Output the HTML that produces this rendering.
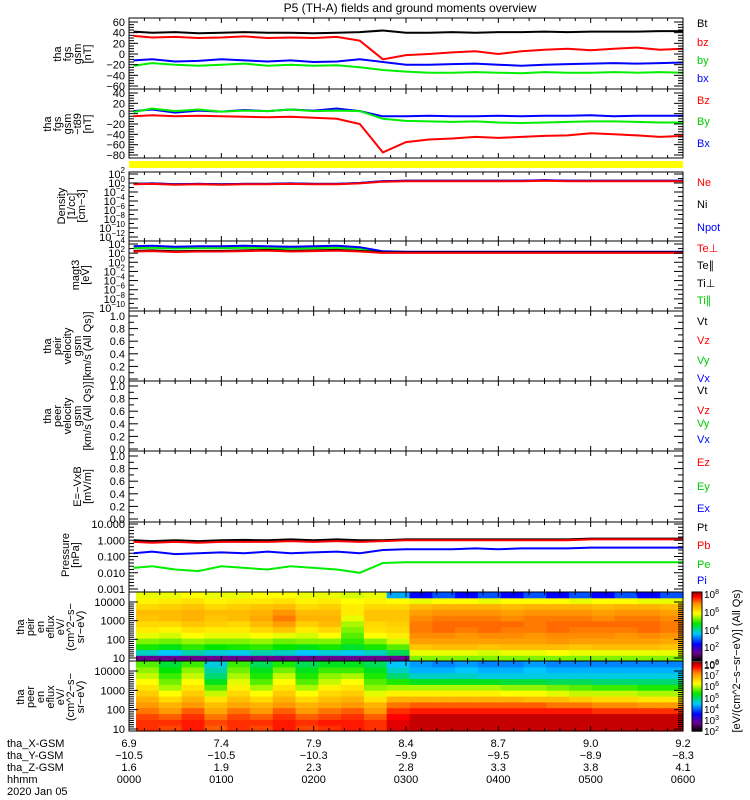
<!DOCTYPE html>
<html><head><meta charset="utf-8">
<style>
html,body{margin:0;padding:0;background:#fff;}
svg{display:block;font-family:"Liberation Sans",sans-serif;}
</style></head>
<body>
<svg id="chart" width="750" height="800" viewBox="0 0 750 800" xmlns="http://www.w3.org/2000/svg">
<rect x="0" y="0" width="750" height="800" fill="#fff"/>
<text x="410" y="12" font-size="12" text-anchor="middle">P5 (TH-A) fields and ground moments overview</text>
<g id="g"></g>
</svg>
<script>
// ---- data (25 points, every 15 minutes from 0000 to 0600) ----
const fgsBt=[42,40,41,39,40,41,40,40,39,40,41,44,40,40,41,40,41,41,42,41,42,42,42,43,43];
const fgsBz=[34,31,32,30,31,33,30,31,30,32,25,-10,-2,0,3,5,0,5,8,10,7,10,12,8,10];
const fgsBy=[-12,-10,-14,-13,-10,-12,-14,-12,-15,-14,-10,-15,-20,-20,-19,-18,-20,-22,-20,-19,-18,-17,-18,-17,-16];
const fgsBx=[-22,-17,-20,-22,-20,-18,-22,-20,-22,-21,-25,-30,-33,-35,-35,-34,-35,-36,-34,-35,-35,-34,-35,-34,-35];
const t89Bz=[-5,-3,-5,-4,-5,-6,-7,-6,-8,-10,-20,-75,-55,-50,-48,-45,-47,-45,-43,-42,-38,-40,-42,-45,-43];
const t89By=[3,10,5,8,4,6,5,8,5,6,5,-10,-14,-15,-16,-15,-17,-18,-17,-16,-15,-15,-16,-17,-17];
const t89Bx=[5,8,2,6,4,7,5,8,6,10,5,-5,-5,-4,-5,-5,-4,-5,-4,-4,-3,-5,-4,-4,-4];
const logNe=[-0.3,-0.2,-0.4,-0.3,-0.4,-0.3,-0.3,-0.2,-0.3,-0.3,-0.1,0.3,0.4,0.4,0.4,0.4,0.4,0.4,0.5,0.4,0.4,0.4,0.4,0.4,0.4];
const logNi=[-0.2,-0.1,-0.3,-0.2,-0.3,-0.2,-0.2,-0.1,-0.2,-0.2,0,0.4,0.5,0.5,0.5,0.5,0.5,0.5,0.6,0.5,0.5,0.5,0.5,0.5,0.5];
const logTe=[2.5,2.6,2.4,2.5,2.5,2.6,2.7,2.5,2.6,2.7,2.5,2.2,2.2,2.2,2.2,2.2,2.2,2.2,2.2,2.2,2.2,2.2,2.2,2.2,2.2];
const logTi=[3.5,3.6,3.4,3.5,3.5,3.6,3.5,3.4,3.5,3.6,3.3,2.4,2.3,2.3,2.3,2.3,2.3,2.3,2.3,2.3,2.3,2.3,2.3,2.3,2.3];
const logTipar=[3.1,3.2,3.0,3.1,3.1,3.2,3.1,3.0,3.1,3.2,3.0,2.3,2.2,2.2,2.2,2.2,2.2,2.2,2.2,2.2,2.2,2.2,2.2,2.2,2.2];
const logPt=[0.0,-0.05,0.0,-0.05,0.0,0.02,0.0,0.05,0.0,0.05,0.0,0.0,0.05,0.05,0.05,0.05,0.05,0.05,0.05,0.05,0.1,0.1,0.1,0.1,0.1];
const logPb=[-0.1,-0.15,-0.1,-0.15,-0.1,-0.1,-0.1,-0.05,-0.1,-0.05,-0.1,-0.05,0,0,0,0,0,0,0,0,0.05,0.05,0.05,0.05,0.05];
const logPe=[-0.8,-0.7,-0.85,-0.8,-0.75,-0.8,-0.7,-0.8,-0.75,-0.7,-0.8,-0.6,-0.55,-0.55,-0.55,-0.5,-0.55,-0.5,-0.5,-0.5,-0.45,-0.45,-0.45,-0.45,-0.45];
const logPi=[-1.7,-1.6,-1.8,-1.9,-1.6,-1.7,-1.8,-1.6,-1.7,-1.8,-2.0,-1.4,-1.35,-1.35,-1.35,-1.35,-1.35,-1.35,-1.35,-1.35,-1.35,-1.35,-1.35,-1.35,-1.35];
// spectrogram rows: energy bins (low->high), 24 time bins each; values = log10 flux
const ionSpec=[
[1,1,1,1,1,1,1,1,1,1,1,1,5,5,5,5,5,5,5,5,5,5,5,5],
[3.5,3.2,3.6,3.4,3.3,3.6,3.5,3.2,3.4,3.3,3.5,4,5.5,5.5,5.5,5.4,5.5,5.5,5.6,5.5,5.5,5.5,5.5,5.5],
[4.5,4.3,4.6,4.4,4.5,4.6,4.4,4.3,4.5,4.2,4.5,4.8,6.2,6.3,6.3,6.2,6.3,6.3,6.3,6.2,6.3,6.3,6.3,6.2],
[5.0,4.9,5.1,5.0,5.0,5.1,4.9,5.0,5.0,4.6,5.0,5.4,6.6,6.6,6.6,6.6,6.6,6.6,6.7,6.6,6.6,6.6,6.6,6.5],
[5.5,5.4,5.6,5.5,5.5,5.6,5.5,5.4,5.6,4.8,5.6,5.8,6.8,6.8,6.7,6.8,6.8,6.7,6.8,6.8,6.8,6.7,6.8,6.7],
[5.8,5.7,5.9,5.8,5.8,6.0,6.2,5.8,6.0,5.0,5.9,6.0,6.9,7.0,6.9,7.0,6.9,6.9,7.0,6.9,6.9,6.9,7.0,6.9],
[6.0,6.0,6.2,6.1,6.0,6.3,6.6,6.1,6.3,5.2,6.0,6.1,6.9,7.0,7.0,7.0,7.0,6.9,7.0,7.0,7.0,7.0,7.0,6.9],
[6.2,6.3,6.4,6.2,6.3,6.5,6.9,6.4,6.4,5.5,6.2,6.2,6.8,6.9,6.9,6.9,6.8,6.9,6.9,6.9,6.8,6.9,6.9,6.8],
[6.3,6.3,6.4,6.3,6.3,6.4,6.7,6.3,6.3,5.8,6.2,6.2,6.6,6.7,6.7,6.7,6.6,6.7,6.7,6.7,6.6,6.7,6.7,6.6],
[6.0,6.1,6.2,6.0,6.1,6.2,6.3,6.0,6.1,5.8,6.0,6.0,6.3,6.4,6.4,6.4,6.3,6.4,6.4,6.4,6.3,6.4,6.4,6.3],
[5.7,5.8,5.9,5.7,5.8,5.8,5.9,5.7,5.8,5.6,5.7,5.6,5.5,5.6,5.6,5.5,5.6,5.6,5.6,5.5,5.6,5.6,5.5,5.5],
[5.5,5.5,5.6,5.5,5.5,5.6,5.6,5.5,5.5,5.4,5.5,3,2,2.5,2,2.5,2,2.5,2,2.5,2,2.5,2,2.5]];
const eleSpec=[
[7.5,7.4,7.6,7.3,7.5,7.4,7.6,7.4,7.5,7.6,7.5,7.8,7.9,7.9,7.9,7.9,7.9,7.9,7.9,7.9,7.9,7.9,7.9,7.9],
[7.5,7.5,7.6,7.4,7.5,7.5,7.6,7.5,7.6,7.6,7.5,7.8,7.9,7.9,7.9,7.9,7.9,7.9,7.9,7.9,7.9,7.9,7.9,7.9],
[7.4,7.3,7.5,7.2,7.4,7.3,7.5,7.3,7.4,7.5,7.3,7.7,7.9,7.9,7.9,7.9,7.9,7.9,7.9,7.9,7.9,7.9,7.9,7.9],
[7.2,7.0,7.3,6.9,7.2,7.0,7.3,7.0,7.2,7.3,7.0,7.5,7.6,7.6,7.6,7.6,7.6,7.6,7.6,7.6,7.5,7.5,7.5,7.5],
[7.0,6.8,7.0,6.7,6.9,6.8,7.0,6.8,6.9,7.0,6.8,7.2,7.3,7.3,7.3,7.3,7.3,7.3,7.2,7.2,7.1,7.1,7.0,7.0],
[6.8,6.5,6.8,6.4,6.7,6.5,6.8,6.5,6.7,6.8,6.4,6.8,6.8,6.8,6.8,6.8,6.8,6.7,6.7,6.6,6.5,6.5,6.4,6.4],
[6.6,6.2,6.6,6.0,6.5,6.2,6.6,6.2,6.5,6.6,6.1,6.3,6.3,6.3,6.3,6.3,6.2,6.2,6.1,6.0,6.0,6.0,5.9,5.9],
[6.4,5.9,6.4,5.6,6.3,5.9,6.4,5.9,6.3,6.4,5.8,5.9,5.9,5.9,5.9,5.9,5.8,5.8,5.7,5.6,5.5,5.5,5.4,5.4],
[6.2,5.7,6.2,5.2,6.1,5.6,6.2,5.6,6.0,6.2,5.6,5.4,5.2,5.2,5.2,5.2,5.1,5.1,5.0,5.0,4.9,4.9,4.9,4.9],
[6.0,5.5,6.0,4.9,5.9,5.4,6.0,5.4,5.8,5.9,5.4,4.9,4.6,4.6,4.6,4.5,4.5,4.5,4.5,4.5,4.5,4.5,4.5,4.5],
[5.8,5.3,5.8,4.7,5.7,5.2,5.7,5.2,5.5,5.5,5.2,4.6,4.3,4.3,4.4,4.3,4.3,4.4,4.3,4.3,4.3,4.3,4.3,4.3],
[5.6,5.1,5.5,4.5,5.5,5.0,5.4,5.0,5.2,5.2,5.0,4.4,4.2,4.1,4.2,4.1,4.1,4.2,4.1,4.1,4.1,4.1,4.1,4.1]];
const posX=["6.9","7.4","7.9","8.4","8.7","9.0","9.2"];
const posY=["\u221210.5","\u221210.5","\u221210.3","\u22129.9","\u22129.5","\u22128.9","\u22128.3"];
const posZ=["1.6","1.9","2.3","2.8","3.3","3.8","4.1"];
const hhmm=["0000","0100","0200","0300","0400","0500","0600"];

const NS="http://www.w3.org/2000/svg";
const G=document.getElementById('g');
const X0=129,X1=683;
function xs(h){return X0+h/6*(X1-X0);}
function mk(tag,attrs,parent){const e=document.createElementNS(NS,tag);for(const k in attrs)e.setAttribute(k,attrs[k]);(parent||G).appendChild(e);return e;}
function lin(d0,d1,p0,p1){return v=>p0+(v-d0)/(d1-d0)*(p1-p0);}

function frame(top,bot,name){
  const r=mk('rect',{x:X0,y:top,width:X1-X0,height:bot-top,fill:'none',stroke:'#000','stroke-width':1});
  
  
  for(let m=0;m<=36;m++){const x=xs(m/6);const L=(m%6===0)?5:3;
    mk('line',{x1:x,y1:top,x2:x,y2:top+L,stroke:'#000'});mk('line',{x1:x,y1:bot,x2:x,y2:bot-L,stroke:'#000'});}
}
function yticks(ys,labels,sup,minorN){
  for(let i=0;i<ys.length;i++){
    mk('line',{x1:X0,y1:ys[i],x2:X0+9,y2:ys[i],stroke:'#000'});
    mk('line',{x1:X1,y1:ys[i],x2:X1-9,y2:ys[i],stroke:'#000'});
    const t=mk('text',{x:X0-4,y:ys[i]+4,'font-size':11,'text-anchor':'end'});
    
    
    if(sup){t.textContent='10';const s=mk('tspan',{dy:-5,'font-size':8},t);s.textContent=labels[i];}
    else t.textContent=labels[i];
    if(i<ys.length-1){for(let k=1;k<minorN;k++){const y=ys[i]+(ys[i+1]-ys[i])*k/minorN;
      mk('line',{x1:X0,y1:y,x2:X0+5,y2:y,stroke:'#000'});mk('line',{x1:X1,y1:y,x2:X1-5,y2:y,stroke:'#000'});}}
  }
}
function ytitle(lines,cy,xLast,name){
  const n=lines.length;
  lines.forEach((s,i)=>{const x=xLast-(n-1-i)*10;
    const t=mk('text',{x:x,y:cy,'font-size':11,'text-anchor':'middle',transform:`rotate(-90 ${x} ${cy})`});
    
    
    t.textContent=s;});
}
function rlabel(txt,y,col){
  const t=mk('text',{x:697,y:y,'font-size':11,fill:col});
  
  
  t.textContent=txt;
}
function series(arr,ysc,col,name){
  const pts=arr.map((v,i)=>xs(i*0.25+0.05*(i===0?1:0)).toFixed(1)+','+ysc(v).toFixed(1)).join(' ');
  const p=mk('polyline',{points:pts,fill:'none',stroke:col,'stroke-width':2});
  
  
}

// Panel 1
const y1=lin(60,-60,22,86);
series(fgsBt,y1,'#000','bt-line');series(fgsBy,y1,'#0000ff','by-line');series(fgsBx,y1,'#00ee00','bx-line');series(fgsBz,y1,'#ff0000','bz-line');
frame(18,89,'fgs-panel');
yticks([60,40,20,0,-20,-40,-60].map(y1),['60','40','20','0','\u221220','\u221240','\u221260'],false,4);
ytitle(['tha','fgs','gsm','[nT]'],54,91,'fgs-y-title');
rlabel('Bt',27,'#000');rlabel('bz',46,'#f00');rlabel('by',64,'#0c0');rlabel('bx',82,'#00f');

// Panel 2
const y2=lin(40,-80,93,155);
series(t89Bx,y2,'#0000ff','t89-bx-line');series(t89By,y2,'#00ee00','t89-by-line');series(t89Bz,y2,'#ff0000','t89-bz-line');
frame(89,158,'t89-panel');
yticks([40,20,0,-20,-40,-60,-80].map(y2),['40','20','0','\u221220','\u221240','\u221260','\u221280'],false,4);
ytitle(['tha','fgs','gsm','\u2212t89','[nT]'],124,91,'t89-y-title');
rlabel('Bz',104,'#f00');rlabel('By',125,'#0c0');rlabel('Bx',147,'#00f');

// yellow bar
const yb=mk('rect',{x:X0,y:161,width:X1-X0,height:7,fill:'#ffff00'});



// Panel 3 density
const y3=lin(2,-12,174,237);
series(logNi,y3,'#000','ni-line');series(logNi,y3,'#0000ff','npot-line');series(logNe,y3,'#ff0000','ne-line');
frame(172,241,'density-panel');
yticks([2,0,-2,-4,-6,-8,-10,-12].map(y3),['2','0','\u22122','\u22124','\u22126','\u22128','\u221210','\u221212'],true,2);
ytitle(['Density','[1/cc]','[cm\u22123]'],206,85,'density-y-title');
rlabel('Ne',186,'#f00');rlabel('Ni',208,'#000');rlabel('Npot',231,'#00f');

// Panel 4 temps
const y4=lin(4,-10,244,308);
series(logTipar,y4,'#00ee00','tipar-line');series(logTi,y4,'#0000ff','tiperp-line');series(logTe,y4,'#000','tepar-line');series(logTe.map(v=>v-0.15),y4,'#ff0000','teperp-line');
frame(241,311,'temperature-panel');
yticks([4,2,0,-2,-4,-6,-8,-10].map(y4),['4','2','0','\u22122','\u22124','\u22126','\u22128','\u221210'],true,2);
ytitle(['magt3','[eV]'],275,89,'temperature-y-title');
rlabel('Te\u22a5',252,'#f00');rlabel('Te\u2225',269,'#000');rlabel('Ti\u22a5',287,'#000');rlabel('Ti\u2225',304,'#0c0');

// Panels 5,6,7 empty
function emptyPanel(top,bot,t0,t1,name,title,xl){
  frame(top,bot,name);const y=lin(1,0,t0,t1);
  yticks([1,0.8,0.6,0.4,0.2,0].map(y),['1.0','0.8','0.6','0.4','0.2','0.0'],false,2);
  ytitle(title,(top+bot)/2,xl,name+'-y-title');
}
emptyPanel(311,381,316,379,'peir-velocity-panel',['tha','peir','velocity','gsm','[km/s (All Qs)]'],91);
rlabel('Vt',325,'#000');rlabel('Vz',344,'#f00');rlabel('Vy',364,'#0c0');rlabel('Vx',382,'#00f');
emptyPanel(381,451,386,449,'peer-velocity-panel',['tha','peer','velocity','gsm','[km/s (All Qs)]'],91);
rlabel('Vt',394,'#000');rlabel('Vz',414,'#f00');rlabel('Vy',427,'#0c0');rlabel('Vx',443,'#00f');
emptyPanel(451,522,456,519,'e-field-panel',['E=\u2212VxB','[mV/m]'],91);
rlabel('Ez',466,'#f00');rlabel('Ey',490,'#0c0');rlabel('Ex',512,'#00f');

// Panel 8 pressure
const y8=lin(1,-3,524,589);
series(logPi,y8,'#00ee00','pi-line');series(logPe,y8,'#0000ff','pe-line');series(logPt,y8,'#000','pt-line');series(logPb,y8,'#ff0000','pb-line');
frame(522,592,'pressure-panel');
yticks([1,0,-1,-2,-3].map(y8),['10.000','1.000','0.100','0.010','0.001'],false,5);
ytitle(['Pressure','[nPa]'],555,79,'pressure-y-title');
rlabel('Pt',531,'#000');rlabel('Pb',549,'#f00');rlabel('Pe',568,'#0c0');rlabel('Pi',584,'#00f');

// colormap
const stops=[[0,0,0,0],[0.12,110,0,140],[0.25,0,0,255],[0.4,0,200,255],[0.55,0,230,0],[0.7,255,255,0],[0.85,255,140,0],[0.95,255,0,0],[1,170,0,0]];
function cmap(f){f=Math.max(0,Math.min(1,f));for(let i=1;i<stops.length;i++){if(f<=stops[i][0]){const a=stops[i-1],b=stops[i],u=(f-a[0])/(b[0]-a[0]);
  return `rgb(${Math.round(a[1]+u*(b[1]-a[1]))},${Math.round(a[2]+u*(b[2]-a[2]))},${Math.round(a[3]+u*(b[3]-a[3]))})`;}}return 'rgb(170,0,0)';}
function spec(data,top,bot,vmin,vmax,name){
  const ne=data.length,nt=data[0].length,eh=(bot-top)/ne,tw=(X1-X0-7)/nt;
  for(let e=0;e<ne;e++)for(let t=0;t<nt;t++){
    const c=mk('rect',{x:(X0+7+t*tw).toFixed(1),y:(bot-(e+1)*eh).toFixed(1),width:(tw+0.6).toFixed(1),height:(eh+0.6).toFixed(1),fill:cmap((data[e][t]-vmin)/(vmax-vmin))});
    
    
  }
}
spec(ionSpec,592,661,0,8,'ion-spectrogram');
frame(592,661,'ion-spectrogram-panel');
const yI=lin(4,1,602,658);
yticks([4,3,2,1].map(yI),['10000','1000','100','10'],false,9);
ytitle(['tha','peir','en','eflux','eV/','(cm^2\u2212s\u2212','sr\u2212eV)'],627,84,'ion-spec-y-title');
spec(eleSpec,661,731,2,8,'electron-spectrogram');
frame(661,731,'electron-spectrogram-panel');
const yE=lin(4,1,671,729);
yticks([4,3,2,1].map(yE),['10000','1000','100','10'],false,9);
ytitle(['tha','peer','en','eflux','eV/','(cm^2\u2212s\u2212','sr\u2212eV)'],697,84,'electron-spec-y-title');

// colorbars
for(let i=0;i<60;i++){
  const c1=mk('rect',{x:692,y:(661-(i+1)*69/60).toFixed(1),width:10,height:1.8,fill:cmap(i/59)});
  
  
  const c2=mk('rect',{x:692,y:(731-(i+1)*69/60).toFixed(1),width:10,height:1.8,fill:cmap(i/59)});
  
  
}
mk('rect',{x:692,y:592,width:10,height:139,fill:'none',stroke:'#000'});
function cblab(e,y){const t=mk('text',{x:704,y:y,'font-size':10});
  
  
  t.textContent='10';const s=mk('tspan',{dy:-4,'font-size':7},t);s.textContent=e;}
[['8',598],['6',616],['4',634],['2',651],['0',669]].forEach(a=>cblab(a[0],a[1]));
[['8',668],['7',679],['6',690],['5',702],['4',713],['3',724],['2',735]].forEach(a=>cblab(a[0],a[1]));
const ct=mk('text',{x:740,y:661,'font-size':11,'text-anchor':'middle',transform:'rotate(-90 740 661)'});


ct.textContent='[eV/(cm^2\u2212s\u2212sr\u2212eV)] (All Qs)';

// bottom labels
const rows=[['tha_X-GSM',posX,747],['tha_Y-GSM',posY,759],['tha_Z-GSM',posZ,771],['hhmm',hhmm,783]];
rows.forEach((r,ri)=>{
  const t=mk('text',{x:7,y:r[2],'font-size':11});
  
  
  t.textContent=r[0];
  r[1].forEach((v,i)=>{const tt=mk('text',{x:xs(i),y:r[2],'font-size':11,'text-anchor':'middle'});
    
    
    tt.textContent=v;});
});
const dl=mk('text',{x:7,y:795,'font-size':11});


dl.textContent='2020 Jan 05';
</script>
</body></html>
